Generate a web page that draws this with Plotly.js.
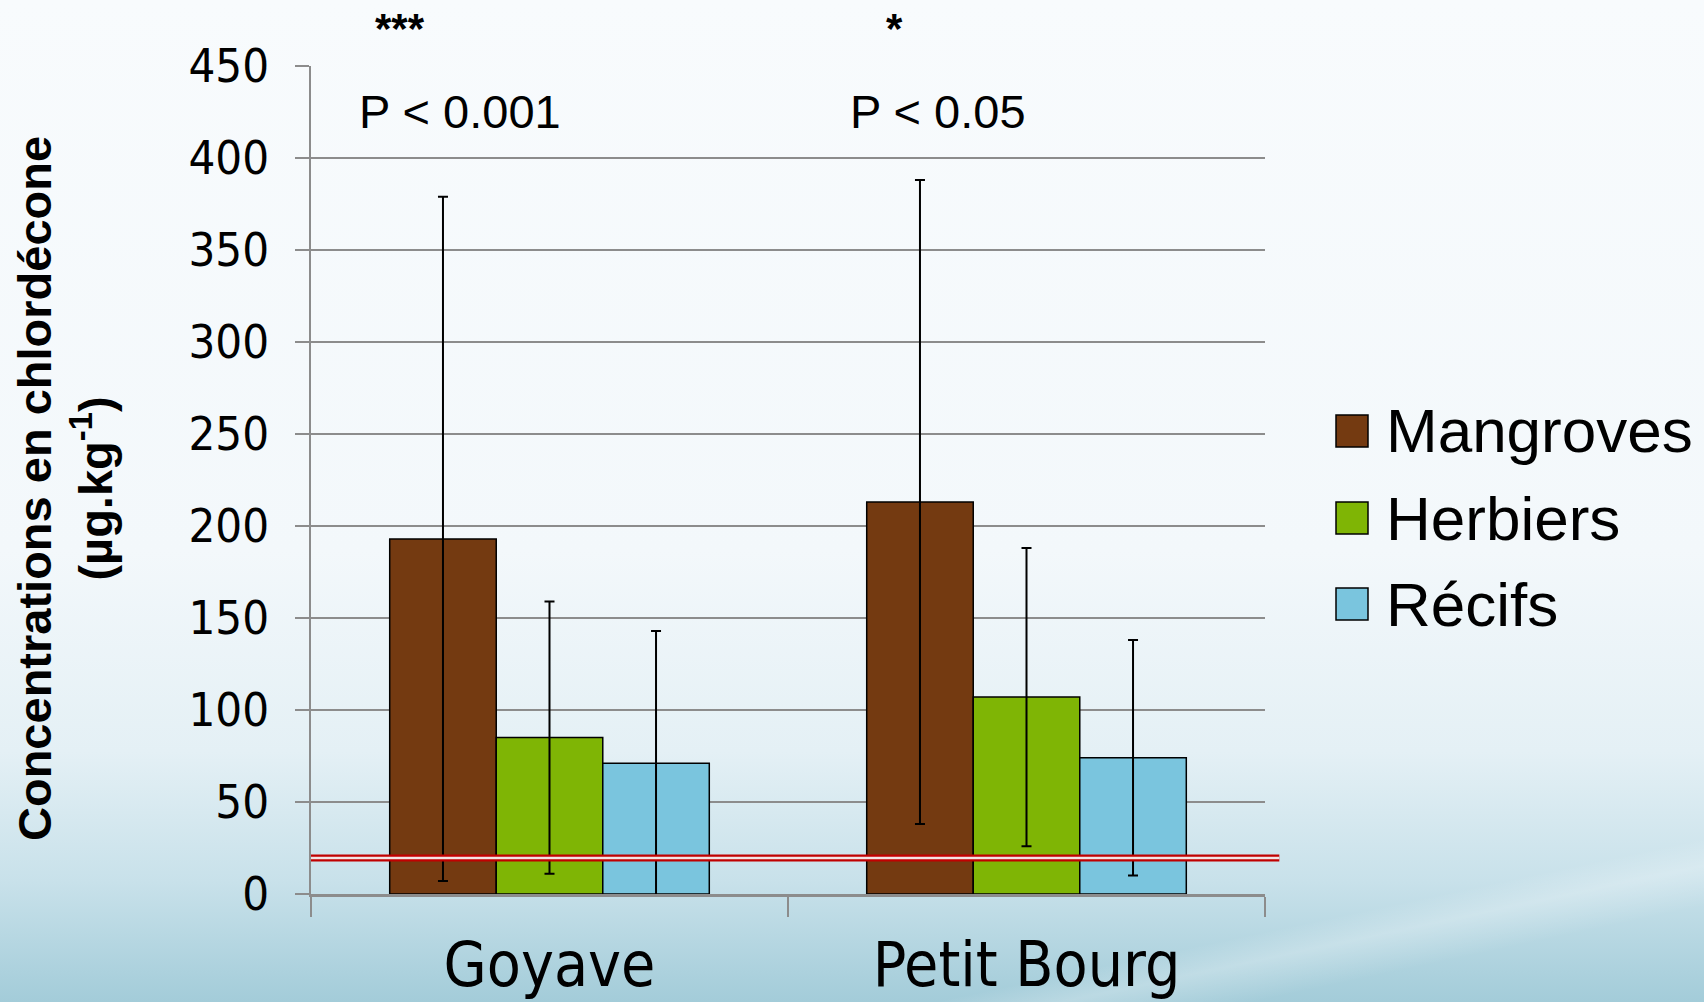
<!DOCTYPE html>
<html>
<head>
<meta charset="utf-8">
<script src="https://cdn.plot.ly/plotly-3.0.1.min.js"></script>
<style>
html,body{margin:0;padding:0;width:1704px;height:1002px;overflow:hidden;}
body{background:
 linear-gradient(168deg, rgba(255,255,255,0) 0%, rgba(255,255,255,0) 88%, rgba(255,255,255,0.25) 90%, rgba(255,255,255,0) 93%),
 linear-gradient(180deg,#f8fbfd 0%,#f3f8fb 55%,#e4f0f5 75%,#c8e1ea 88%,#a3ccd9 100%);}
#chart{width:1704px;height:1002px;position:absolute;left:0;top:0;}
</style>
</head>
<body>
<div id="chart"></div>
<script>
const sites = ["Goyave", "Petit Bourg"];
const seriesNames = ["Mangroves", "Herbiers", "Récifs"];
const seriesColors = ["#743A11", "#7FB505", "#7AC5DE"];
const mangroves = [193, 213];
const mangrovesErr = [186, 175];
const herbiers = [85, 107];
const herbiersErr = [74, 81];
const recifs = [71, 74];
const recifsErr = [72, 64];
const threshold = 19.5;
const yTicks = [0, 50, 100, 150, 200, 250, 300, 350, 400, 450];
const pLabels = ["P < 0.001", "P < 0.05"];
const stars = ["***", "*"];

const values = [mangroves, herbiers, recifs];
const errors = [mangrovesErr, herbiersErr, recifsErr];

const narrow = "Liberation Sans Narrow, Arial Narrow, DejaVu Sans Condensed, Roboto Condensed, Liberation Sans, Arial, sans-serif";
const regular = "Liberation Sans, Arial, sans-serif";

const traces = seriesNames.map((n, i) => ({
  type: "bar",
  name: n,
  x: sites,
  y: values[i],
  marker: {color: seriesColors[i], line: {color: "#000000", width: 1.5}},
  error_y: {type: "data", array: errors[i], visible: true, color: "#000000", thickness: 2, width: 5},
  showlegend: false
}));

const W = 954, H = 828, L = 311, T = 66;
const px = X => (X - L) / W;
const py = Y => (T + H - Y) / H;

const annotations = [];
const shapes = [];
// threshold double red line
shapes.push({type: "line", xref: "paper", yref: "y", x0: 0, x1: 1.015, y0: threshold, y1: threshold,
  line: {color: "#c00000", width: 7}});
shapes.push({type: "line", xref: "paper", yref: "y", x0: 0, x1: 1.015, y0: threshold, y1: threshold,
  line: {color: "#f3e4e4", width: 2.5}});
// p-values and stars
const pX = [460, 938];
const sX = [400, 894];
sites.forEach((s, i) => {
  annotations.push({xref: "paper", yref: "paper", x: px(pX[i]), y: py(111), text: pLabels[i],
    showarrow: false, xanchor: "center", yanchor: "middle", font: {family: regular, size: 47, color: "#000"}});
  annotations.push({xref: "paper", yref: "paper", x: px(sX[i]), y: py(28), text: "<b>" + stars[i] + "</b>",
    showarrow: false, xanchor: "center", yanchor: "middle", font: {family: regular, size: 42, color: "#000"}});
});
// y title
annotations.push({xref: "paper", yref: "paper", x: px(65), y: py(489), textangle: -90,
  text: "<b>Concentrations en chlordécone</b><br><b>(µg.kg<sup>-1</sup>)</b>", showarrow: false,
  xanchor: "center", yanchor: "middle", font: {family: regular, size: 47, color: "#000"}});
// custom legend
const legY = [431, 518, 604];
seriesNames.forEach((n, i) => {
  shapes.push({type: "rect", xref: "paper", yref: "paper",
    x0: px(1336), x1: px(1368), y0: py(legY[i] - 16), y1: py(legY[i] + 16),
    fillcolor: seriesColors[i], line: {color: "#000", width: 1.5}});
  annotations.push({xref: "paper", yref: "paper", x: px(1384), y: py(legY[i]), text: n,
    showarrow: false, xanchor: "left", yanchor: "middle", font: {family: regular, size: 62, color: "#000"}});
});

const layout = {
  width: 1704, height: 1002,
  margin: {l: L, r: 1704 - L - W, t: T, b: 1002 - T - H},
  paper_bgcolor: "rgba(0,0,0,0)", plot_bgcolor: "rgba(0,0,0,0)",
  barmode: "group", bargap: 0.33, bargroupgap: 0,
  showlegend: false,
  xaxis: {type: "category", range: [-0.5, 1.5], showgrid: false, showline: true, linecolor: "#8c8c8c", linewidth: 2.5,
    ticks: "outside", tickson: "boundaries", ticklen: 20, tickwidth: 2, tickcolor: "#8c8c8c",
    tickfont: {family: narrow, size: 62, color: "#000"}, ticklabelstandoff: 15},
  yaxis: {range: [0, 450], tickvals: yTicks, showgrid: true, gridcolor: "#8c8c8c", gridwidth: 2,
    showline: true, linecolor: "#8c8c8c", linewidth: 2.5, ticks: "outside", ticklen: 14, tickwidth: 2, tickcolor: "#8c8c8c",
    tickfont: {family: narrow, size: 47, color: "#000"}, ticklabelstandoff: 16, zeroline: false},
  annotations: annotations,
  shapes: shapes
};

Plotly.newPlot("chart", traces, layout, {staticPlot: true});
</script>
</body>
</html>
